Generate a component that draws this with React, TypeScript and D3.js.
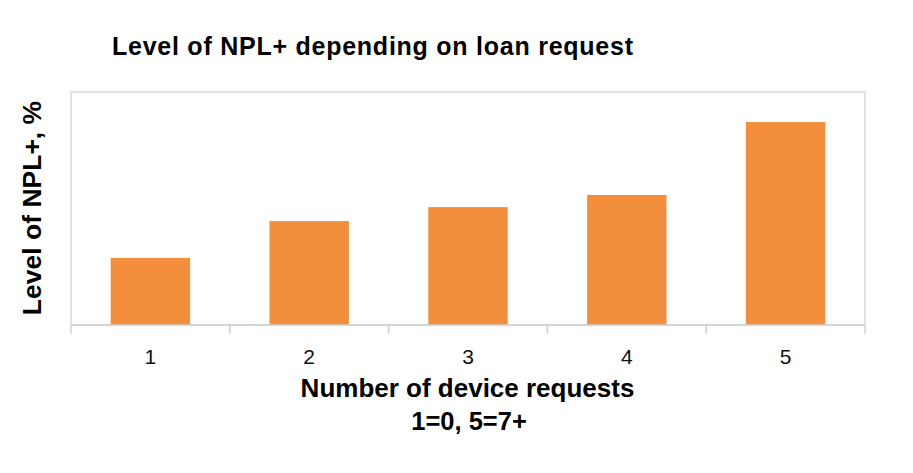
import React from "react";
import * as d3 from "d3";

const categories = ["1", "2", "3", "4", "5"];
const values = [28.8, 44.6, 50.6, 55.8, 87.1];

export default function App() {
  const W = 913, H = 473;
  const left = 71, right = 865, top = 92, bottom = 325;
  const x = d3.scaleBand<string>().domain(categories).range([left, right]).paddingInner(0.5).paddingOuter(0.25);
  const xb = d3.scaleBand<string>().domain(categories).range([left, right]);
  const y = d3.scaleLinear().domain([0, 100]).range([bottom, top]);
  const font = "'Liberation Sans', Arial, sans-serif";
  const tickXs = [left, ...categories.map((c) => (xb(c) as number) + xb.bandwidth())];
  return (
    <svg width={W} height={H} style={{ position: "absolute", left: 0, top: 0 }} fontFamily={font}>
      <rect x={0} y={0} width={W} height={H} fill="#fff" />
      <rect x={left} y={top} width={right - left} height={bottom - top} fill="none" stroke="#d9d9d9" strokeWidth={1.5} />
      {categories.map((c, i) => (
        <rect key={c} x={x(c)} y={y(values[i])} width={x.bandwidth()} height={bottom - y(values[i])} fill="#f28e3c" />
      ))}
      <line x1={left} x2={right} y1={bottom} y2={bottom} stroke="#d0d0d0" strokeWidth={1.5} />
      {tickXs.map((t, i) => (
        <line key={i} x1={t} x2={t} y1={bottom} y2={bottom + 9} stroke="#d0d0d0" strokeWidth={1.5} />
      ))}
      {categories.map((c) => (
        <text key={c} x={(xb(c) as number) + xb.bandwidth() / 2} y={364} textAnchor="middle" fontSize={21} fill="#111">{c}</text>
      ))}
      <text x={112} y={55} fontSize={25} fontWeight="bold" fill="#000" textLength={521} lengthAdjust="spacing">Level of NPL+ depending on loan request</text>
      <text transform={`translate(41,208) rotate(-90)`} textAnchor="middle" fontSize={26.5} fontWeight="bold" fill="#000">Level of NPL+, %</text>
      <text x={467.5} y={397} textAnchor="middle" fontSize={26} fontWeight="bold" fill="#000">Number of device requests</text>
      <text x={469} y={430} textAnchor="middle" fontSize={25.5} fontWeight="bold" fill="#000">1=0, 5=7+</text>
    </svg>
  );
}
